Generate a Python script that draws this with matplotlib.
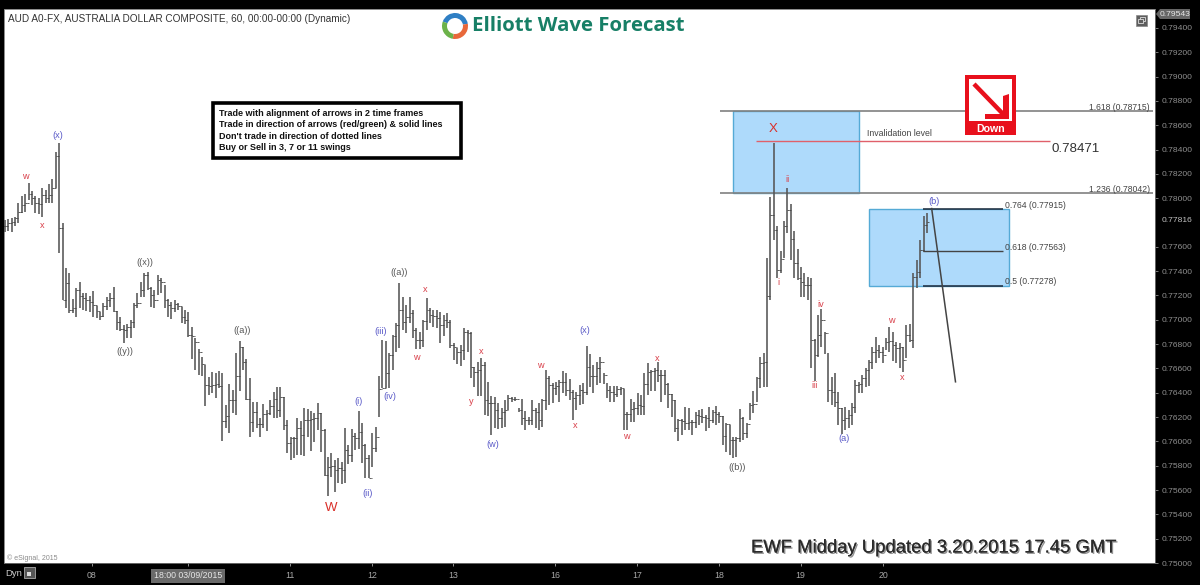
import numpy as np
import matplotlib
matplotlib.use("Agg")
import matplotlib.pyplot as plt
import matplotlib.patheffects as pe
from matplotlib.patches import Rectangle, Polygon, Wedge

plt.rcParams['font.family'] = ['Liberation Sans', 'DejaVu Sans']

# hourly bars, prices in 1e-5 units
bar_high = [
    77822, 77830, 77838, 77847, 77962, 78020, 78036, 78126, 78061, 78020, 78003, 78085, 78069, 78118, 78159, 78381,
    78455, 77797, 77427, 77386, 77173, 77263, 77313, 77222, 77222, 77197, 77239, 77115, 77066, 77140, 77189, 77222,
    77271, 77074, 77025, 76959, 76967, 77000, 77140, 77222, 77313, 77386, 77395, 77271, 77247, 77370, 77345, 77288,
    77173, 77148, 77164, 77140, 77107, 77082, 77066, 76942, 76852, 76762, 76696, 76630, 76531, 76573, 76564, 76581,
    76564, 76301, 76474, 76425, 76729, 76827, 76778, 76679, 76523, 76326, 76326, 76194, 76309, 76260, 76342, 76408,
    76449, 76449, 76367, 76178, 76038, 76038, 76194, 76170, 76276, 76268, 76252, 76235, 76317, 76235, 76104, 75874,
    75907, 75849, 75866, 75833, 76112, 75973, 76104, 76071, 76252, 76153, 75981, 75890, 76071, 76120, 76540, 76836,
    76827, 76729, 76877, 76975, 77304, 77189, 77123, 77189, 77082, 76934, 76901, 77000, 77181, 77099, 77082, 77082,
    77066, 77041, 77058, 77000, 76811, 76770, 76795, 76934, 76918, 76901, 76614, 76655, 76688, 76655, 76490, 76375,
    76367, 76317, 76276, 76342, 76383, 76367, 76367, 76276, 76351, 76252, 76203, 76342, 76276, 76317, 76351, 76589,
    76540, 76482, 76490, 76507, 76581, 76564, 76515, 76425, 76408, 76466, 76482, 76786, 76721, 76630, 76655, 76696,
    76564, 76482, 76457, 76457, 76457, 76449, 76433, 76244, 76351, 76326, 76400, 76383, 76564, 76647, 76589, 76605,
    76655, 76589, 76589, 76482, 76392, 76342, 76186, 76186, 76285, 76276, 76178, 76244, 76260, 76268, 76219, 76285,
    76260, 76293, 76244, 76211, 76153, 76137, 76038, 76038, 76268, 76203, 76153, 76317, 76416, 76531, 76696, 76729,
    77510, 78011, 78455, 77773, 77567, 77814, 78085, 77953, 77732, 77584, 77436, 77386, 77353, 77345, 76844, 77041,
    77090, 76901, 76729, 76531, 76564, 76408, 76276, 76285, 76260, 76317, 76507, 76490, 76548, 76605, 76671, 76778,
    76860, 76795, 76778, 76852, 76942, 76901, 76819, 76811, 76778, 76959, 76967, 77386, 77493, 77658, 77855, 77880,
]
bar_low = [
    77724, 77732, 77724, 77773, 77797, 77880, 77888, 77986, 77945, 77880, 77871, 77847, 77962, 77962, 77962, 78085,
    77551, 77164, 77099, 77058, 77058, 77025, 77099, 77082, 77074, 77066, 77025, 77016, 77000, 77025, 77082, 77107,
    77066, 76918, 76910, 76811, 76852, 76852, 76934, 77099, 77189, 77189, 77247, 77107, 77099, 77206, 77222, 77099,
    77025, 77008, 77066, 77082, 76975, 76967, 76860, 76679, 76589, 76548, 76540, 76293, 76383, 76400, 76359, 76441,
    76005, 76112, 76071, 76235, 76219, 76416, 76589, 76342, 76038, 76079, 76112, 76038, 76112, 76088, 76219, 76194,
    76194, 76203, 76096, 75907, 75849, 75866, 75890, 75890, 75882, 76038, 75923, 75997, 76096, 75915, 75718, 75553,
    75709, 75586, 75660, 75652, 75660, 75816, 75833, 75931, 75940, 75825, 75701, 75701, 75792, 75915, 76203, 76441,
    76441, 76441, 76589, 76737, 76770, 76918, 76893, 76975, 76852, 76762, 76762, 76778, 76918, 76975, 76942, 76934,
    76811, 76868, 76934, 76770, 76671, 76638, 76622, 76671, 76737, 76523, 76449, 76375, 76375, 76219, 76211, 76055,
    76112, 76104, 76112, 76120, 76260, 76326, 76334, 76244, 76137, 76096, 76137, 76137, 76112, 76096, 76120, 76260,
    76301, 76317, 76383, 76326, 76400, 76375, 76342, 76178, 76260, 76301, 76309, 76383, 76449, 76400, 76466, 76482,
    76474, 76359, 76326, 76326, 76367, 76383, 76096, 76096, 76162, 76162, 76219, 76219, 76219, 76383, 76416, 76416,
    76490, 76326, 76383, 76276, 76203, 76079, 76005, 76055, 76096, 76096, 76055, 76112, 76137, 76153, 76088, 76112,
    76153, 76137, 76153, 75973, 75915, 75890, 75866, 75874, 75997, 76014, 76030, 76178, 76235, 76326, 76441, 76449,
    76449, 77164, 77658, 77345, 77386, 77510, 77715, 77493, 77345, 77329, 77189, 77189, 77164, 76605, 76498, 76696,
    76778, 76721, 76326, 76301, 76285, 76137, 76063, 76096, 76112, 76137, 76235, 76400, 76400, 76449, 76457, 76597,
    76647, 76688, 76647, 76753, 76737, 76663, 76647, 76605, 76573, 76688, 76819, 76770, 77263, 77345, 77559, 77715,
]
bar_close = [
    77773, 77797, 77806, 77838, 77888, 77945, 77962, 78036, 78003, 77962, 77953, 78028, 78003, 78028, 78085, 78348,
    77756, 77164, 77304, 77082, 77099, 77247, 77197, 77181, 77164, 77148, 77123, 77074, 77033, 77115, 77164, 77181,
    77074, 76984, 76926, 76918, 76942, 76984, 77123, 77140, 77247, 77370, 77263, 77206, 77164, 77329, 77313, 77164,
    77123, 77099, 77132, 77115, 77025, 77000, 76877, 76868, 76819, 76737, 76638, 76466, 76457, 76466, 76474, 76457,
    76170, 76211, 76342, 76342, 76540, 76778, 76655, 76351, 76162, 76244, 76145, 76145, 76227, 76235, 76293, 76351,
    76260, 76367, 76137, 75989, 76030, 76030, 76112, 76055, 76178, 76178, 76186, 76194, 76235, 76096, 75726, 75792,
    75800, 75767, 75783, 75767, 75931, 75890, 76047, 76030, 76079, 75973, 75866, 75701, 75948, 76038, 76433, 76441,
    76564, 76712, 76868, 76959, 77082, 76984, 77025, 77058, 76918, 76836, 76836, 76992, 77082, 77041, 77033, 77016,
    76959, 77000, 76984, 76795, 76778, 76737, 76753, 76901, 76893, 76614, 76573, 76589, 76630, 76342, 76317, 76317,
    76260, 76194, 76244, 76260, 76359, 76351, 76351, 76260, 76194, 76178, 76178, 76260, 76244, 76178, 76342, 76523,
    76466, 76441, 76457, 76490, 76490, 76425, 76408, 76359, 76383, 76425, 76408, 76614, 76540, 76540, 76605, 76655,
    76548, 76425, 76408, 76392, 76433, 76441, 76227, 76227, 76268, 76276, 76301, 76293, 76474, 76573, 76581, 76589,
    76548, 76548, 76474, 76392, 76342, 76112, 76178, 76170, 76153, 76162, 76162, 76219, 76211, 76203, 76194, 76178,
    76244, 76227, 76211, 76047, 76145, 76014, 76014, 76030, 76194, 76071, 76145, 76301, 76309, 76523, 76647, 76655,
    77197, 77863, 77740, 77411, 77502, 77773, 77904, 77666, 77468, 77345, 77313, 77288, 77288, 76836, 76712, 76877,
    77000, 76893, 76425, 76408, 76326, 76276, 76178, 76194, 76219, 76285, 76466, 76474, 76523, 76589, 76655, 76737,
    76753, 76737, 76712, 76819, 76827, 76795, 76770, 76778, 76671, 76877, 76836, 77353, 77395, 77575, 77781, 77806,
]

price_ticks = [0.75, 0.752, 0.754, 0.756, 0.758, 0.76, 0.762, 0.764, 0.766, 0.768, 0.77, 0.772, 0.774, 0.776,
               0.78, 0.782, 0.784, 0.786, 0.788, 0.79, 0.792, 0.794]
day_bars = [25.6, 53.8, 83.8, 107.95, 131.8, 161.8, 185.8, 209.9, 233.9, 258.1]
day_labels = ['08', '18:00 03/09/2015', '11', '12', '13', '16', '17', '18', '19', '20']

wave_text = ['(x)', 'w', 'x', '((x))', '((y))', '((a))', 'W', '(i)', '(ii)', '(iii)', '(iv)', '((a))', 'w', 'x', 'x', 'y',
             '(w)', '(x)', 'w', 'x', 'w', 'x', '((b))', 'X', 'ii', 'i', 'iv', 'iii', '(a)', 'w', 'x', '(b)']
wave_bar = [15.6, 6.0, 11.0, 41.3, 35.4, 69.8, 95.9, 103.9, 106.5, 110.5, 113.2, 115.8, 120.9, 123.5, 139.9, 137.1,
            143.5, 170.5, 157.3, 167.6, 182.6, 191.7, 215.2, 225.8, 229.9, 227.3, 239.9, 238.1, 246.7, 260.5, 263.6, 273.1]
wave_price = [.78512, .78175, .77773, .77469, .76737, .7691, .75455, .76326, .7557, .76901, .76367, .77386, .76688,
              .77247, .76737, .76326, .75973, .7691, .76622, .76129, .76038, .7668, .75783, .7857, .78151, .77304,
              .77123, .76457, .76022, .76992, .76523, .77975]
wave_color = ['#5a5ac8', '#d9404a', '#d9404a', '#555555', '#555555', '#555555', '#d9302a', '#5a5ac8', '#5a5ac8',
              '#5a5ac8', '#5a5ac8', '#555555', '#d9404a', '#d9404a', '#d9404a', '#d9404a', '#5a5ac8', '#5a5ac8',
              '#d9404a', '#d9404a', '#d9404a', '#d9404a', '#555555', '#d9302a', '#d9404a', '#d9404a', '#d9404a',
              '#d9404a', '#5a5ac8', '#d9404a', '#d9404a', '#5a5ac8']

note_lines = ['Trade with alignment of arrows in 2 time frames',
              'Trade in direction of arrows (red/green) & solid lines',
              "Don't trade in direction of dotted lines",
              'Buy or Sell in 3, 7 or 11 swings']

fig = plt.figure(figsize=(12, 5.85), dpi=100, facecolor='black')
ax = fig.add_axes([4 / 1200, 1 - 563 / 585, 1151 / 1200, 554 / 585], facecolor='white')

high = np.array(bar_high) / 1e5
low = np.array(bar_low) / 1e5
close = np.array(bar_close) / 1e5
assert len(high) == len(low) == len(close)
idx = np.arange(len(high))
opens = np.r_[close[0], close[:-1]]

# blue target boxes go under the bars
ax.add_patch(Rectangle((214.0, 0.78042), 37.1, 0.00673, fc='#aedafb', ec='#55aad6', lw=1, zorder=1))
ax.add_patch(Rectangle((254.0, 0.77278), 41.2, 0.00637, fc='#aedafb', ec='#55aad6', lw=1, zorder=1))

ax.vlines(idx, low, high, color='#555555', lw=1.15, zorder=3)
ax.hlines(close, idx, idx + 0.5, color='#444444', lw=0.6, zorder=3)
ax.hlines(opens, idx - 0.5, idx, color='#444444', lw=0.6, zorder=3)

# fib levels and invalidation
ax.hlines([0.78715, 0.78042], 210.2, 337.3, color='#808080', lw=1.2, zorder=2)
ax.hlines(0.78471, 220.8, 307.2, color='#e0606a', lw=1.0, zorder=4)
ax.hlines([0.77915, 0.77278], 269.8, 293.4, color='#1e2a3a', lw=1.1, zorder=4)
ax.hlines(0.77563, 269.8, 293.4, color='#444444', lw=1.0, zorder=4)
ax.plot([272.4, 279.4], [0.77915, 0.7649], color='#444444', lw=1.1, zorder=4)

for t, b, p, c in zip(wave_text, wave_bar, wave_price, wave_color):
    big = t in ('W', 'X')
    ax.text(b, p, t, color=c, fontsize=9.5 if big else 6.6, ha='center', va='center', zorder=5)

ax.set_xlim((4 - 4.7) / 3.403, (1155 - 4.7) / 3.403)
ax.set_ylim(0.75, 0.79556)
ax.yaxis.tick_right()
ax.set_yticks(price_ticks)
ax.set_yticklabels(['%.5f' % p for p in price_ticks])
ax.set_xticks(day_bars)
ax.set_xticklabels(day_labels)
ax.tick_params(axis='y', colors='#8f8f8f', labelsize=6.1, length=2, width=0.6, pad=2.5)
ax.tick_params(axis='x', colors='#a8a8a8', labelsize=6.3, length=2, width=0.6, pad=4)
for lbl in ax.get_xticklabels():
    if lbl.get_text().startswith('18:00'):
        lbl.set_bbox(dict(fc='#6a6a6a', ec='none', pad=2))
        lbl.set_color('#e6e6e6')
for s in ax.spines.values():
    s.set_color('#777777')
    s.set_linewidth(0.6)

# everything else is placed in image pixels
deco = fig.add_axes([0, 0, 1, 1], facecolor='none')
deco.set_xlim(0, 1200)
deco.set_ylim(585, 0)
deco.axis('off')

deco.text(8, 19, 'AUD A0-FX, AUSTRALIA DOLLAR COMPOSITE, 60, 00:00-00:00 (Dynamic)', fontsize=7.2, color='#333333', va='center')
deco.text(472, 26, 'Elliott Wave Forecast', fontsize=14.7, color='#177f66', fontweight='bold', va='center', family='Open Sans')

# logo ring
deco.add_patch(Wedge((455, 26), 13, 200, 350, width=5, fc='#2f7fc4', ec='none'))
deco.add_patch(Wedge((455, 26), 13, 350, 100, width=5, fc='#e8683a', ec='none'))
deco.add_patch(Wedge((455, 26), 13, 100, 200, width=5, fc='#6cb24a', ec='none'))

# rule box
deco.add_patch(Rectangle((213, 103), 248, 55, fc='white', ec='black', lw=2.6))
for i, line in enumerate(note_lines):
    deco.text(219, 113.5 + i * 11.4, line, fontsize=6.45, fontweight='bold', color='#111111', va='center')

# down icon
deco.add_patch(Rectangle((965, 75), 51, 60, fc='#e8101c', ec='none'))
deco.add_patch(Rectangle((969, 79), 43, 42, fc='white', ec='none'))
deco.plot([974, 1004], [84, 115], color='#e8101c', lw=3.2, solid_capstyle='butt')
deco.add_patch(Polygon([[1003, 96], [1009, 94], [1009, 119], [985, 119], [985, 114], [1003, 114]], fc='#e8101c', ec='none'))
deco.text(990.5, 128.5, 'Down', fontsize=7.6, fontweight='bold', color='white', ha='center', va='center')

deco.text(867, 134, 'Invalidation level', fontsize=6.3, color='#444444', va='center')
deco.text(1052, 149, '0.78471', fontsize=9.6, color='#333333', va='center')
deco.text(1150, 107, '1.618 (0.78715)', fontsize=6.2, color='#444444', va='center', ha='right')
deco.text(1150, 189, '1.236 (0.78042)', fontsize=6.2, color='#444444', va='center', ha='right')
deco.text(1005, 205, '0.764 (0.77915)', fontsize=6.2, color='#444444', va='center')
deco.text(1005, 247, '0.618 (0.77563)', fontsize=6.2, color='#444444', va='center')
deco.text(1005, 282, '0.5 (0.77278)', fontsize=6.2, color='#444444', va='center')

deco.text(751, 548, 'EWF Midday Updated 3.20.2015 17.45 GMT', fontsize=13.3, color='#2a2a2a', va='center',
          path_effects=[pe.withSimplePatchShadow(offset=(1, -1), alpha=0.45), pe.Normal()])
deco.text(7, 558, '\u00a9 eSignal, 2015', fontsize=5, color='#8a8a8a', va='center')

# price cursor tags
deco.add_patch(Polygon([[1156, 14], [1160, 9], [1190, 9], [1190, 19], [1160, 19]], fc='#666666', ec='none'))
deco.text(1160, 14, '0.79543', fontsize=6.1, color='#e8e8e8', va='center')
deco.text(1162, 221, '0.77816', fontsize=6.1, color='#c0c0c0', va='center')

# window button and bottom strip
deco.add_patch(Rectangle((1136, 15), 11, 11, fc='#5e5e5e', ec='#888888', lw=0.5))
deco.add_patch(Rectangle((1140, 17), 5, 4, fc='none', ec='#dddddd', lw=0.6))
deco.add_patch(Rectangle((1138, 19), 5, 4, fc='#5e5e5e', ec='#dddddd', lw=0.6))
deco.text(5, 573, 'Dyn', fontsize=6.8, color='#cccccc', va='center')
deco.add_patch(Rectangle((23.5, 567), 11, 11, fc='#555555', ec='#aaaaaa', lw=0.6))
deco.add_patch(Rectangle((27, 572), 4, 3.5, fc='#dddddd', ec='none'))

fig.savefig('out.png', dpi=100, facecolor='black')
